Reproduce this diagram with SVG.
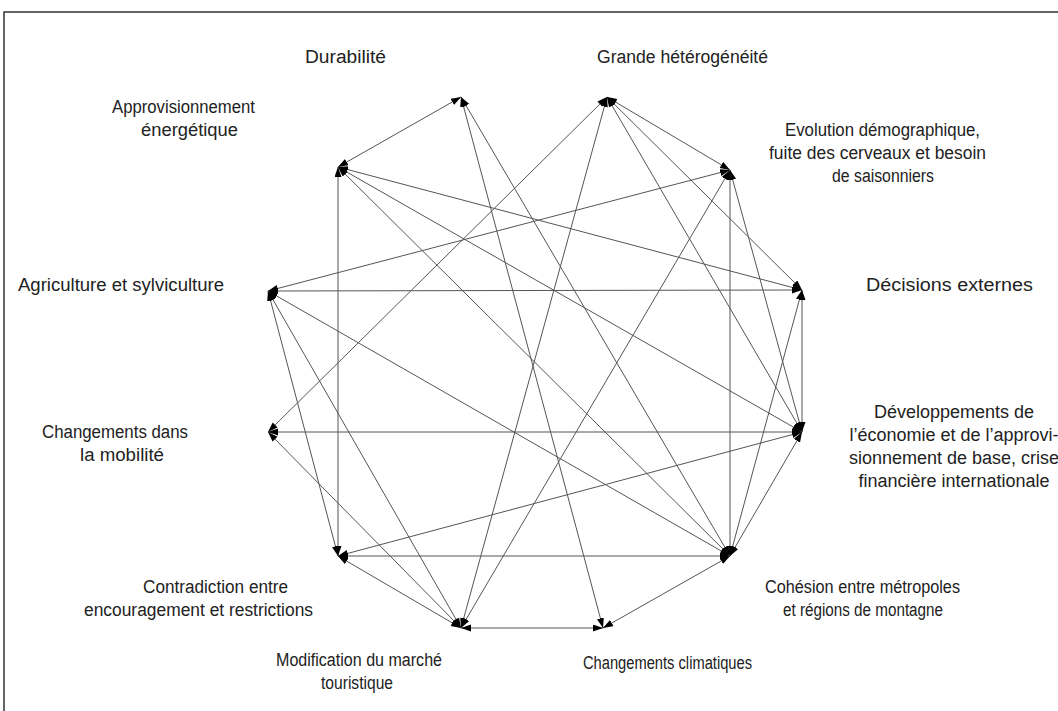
<svg xmlns="http://www.w3.org/2000/svg" width="1058" height="711" viewBox="0 0 1058 711">
<style>
.lbl{font-family:"Liberation Sans",Arial,sans-serif;font-size:18px;fill:#222;text-anchor:middle}
.c line{stroke:#555;stroke-width:1;fill:none;marker-start:url(#ah);marker-end:url(#ah)}
.frame{fill:none;stroke:#333;stroke-width:1.5}
</style>
<defs>
<marker id="ah" markerUnits="userSpaceOnUse" markerWidth="11" markerHeight="8" refX="10" refY="3.5" orient="auto-start-reverse">
<path d="M0,0 L10,3.5 L0,7 z" fill="#000"/>
</marker>
</defs>
<rect width="1058" height="711" fill="#fff"/>
<rect class="frame" x="4" y="12" width="1070" height="720"/>
<g id="connectors" class="c">
<line x1="338" y1="167" x2="461" y2="97"/>
<line x1="338" y1="167" x2="338" y2="556"/>
<line x1="338" y1="167" x2="802" y2="290"/>
<line x1="338" y1="167" x2="802" y2="432"/>
<line x1="338" y1="167" x2="730" y2="556"/>
<line x1="461" y1="97" x2="603" y2="628"/>
<line x1="461" y1="97" x2="730" y2="556"/>
<line x1="607" y1="97" x2="268" y2="432"/>
<line x1="607" y1="97" x2="461" y2="628"/>
<line x1="607" y1="97" x2="802" y2="432"/>
<line x1="607" y1="97" x2="802" y2="290"/>
<line x1="607" y1="97" x2="730" y2="170"/>
<line x1="268" y1="291" x2="730" y2="170"/>
<line x1="268" y1="291" x2="802" y2="290"/>
<line x1="268" y1="291" x2="730" y2="556"/>
<line x1="268" y1="291" x2="338" y2="556"/>
<line x1="268" y1="291" x2="461" y2="628"/>
<line x1="268" y1="432" x2="802" y2="432"/>
<line x1="268" y1="432" x2="461" y2="628"/>
<line x1="338" y1="556" x2="802" y2="432"/>
<line x1="338" y1="556" x2="730" y2="556"/>
<line x1="338" y1="556" x2="461" y2="628"/>
<line x1="461" y1="628" x2="730" y2="170"/>
<line x1="461" y1="628" x2="603" y2="628"/>
<line x1="603" y1="628" x2="730" y2="556"/>
<line x1="730" y1="556" x2="730" y2="170"/>
<line x1="730" y1="556" x2="802" y2="432"/>
<line x1="730" y1="556" x2="802" y2="290"/>
<line x1="730" y1="170" x2="802" y2="432"/>
<line x1="802" y1="290" x2="802" y2="432"/>
</g>
<g id="n-durabilite"><text class="lbl" x="345.5" y="63" textLength="81" lengthAdjust="spacingAndGlyphs">Durabilité</text></g>
<g id="n-heterogeneite"><text class="lbl" x="682.5" y="63" textLength="171" lengthAdjust="spacingAndGlyphs">Grande hétérogénéité</text></g>
<g id="n-evolution"><text class="lbl" x="882.5" y="136" textLength="195" lengthAdjust="spacingAndGlyphs">Evolution démographique,</text><text class="lbl" x="877.5" y="159" textLength="217" lengthAdjust="spacingAndGlyphs">fuite des cerveaux et besoin</text><text class="lbl" x="883" y="182" textLength="102" lengthAdjust="spacingAndGlyphs">de saisonniers</text></g>
<g id="n-decisions"><text class="lbl" x="949.5" y="291" textLength="167" lengthAdjust="spacingAndGlyphs">Décisions externes</text></g>
<g id="n-developpements"><text class="lbl" x="954" y="418">Développements de</text><text class="lbl" x="954" y="441">l’économie et de l’approvi-</text><text class="lbl" x="954" y="464">sionnement de base, crise</text><text class="lbl" x="954" y="487">financière internationale</text></g>
<g id="n-cohesion"><text class="lbl" x="862.5" y="593" textLength="195" lengthAdjust="spacingAndGlyphs">Cohésion entre métropoles</text><text class="lbl" x="863" y="616" textLength="160" lengthAdjust="spacingAndGlyphs">et régions de montagne</text></g>
<g id="n-climatiques"><text class="lbl" x="667.5" y="669" textLength="169" lengthAdjust="spacingAndGlyphs">Changements climatiques</text></g>
<g id="n-tourisme"><text class="lbl" x="359" y="666" textLength="166" lengthAdjust="spacingAndGlyphs">Modification du marché</text><text class="lbl" x="357" y="689" textLength="72" lengthAdjust="spacingAndGlyphs">touristique</text></g>
<g id="n-contradiction"><text class="lbl" x="215.5" y="593" textLength="145" lengthAdjust="spacingAndGlyphs">Contradiction entre</text><text class="lbl" x="198.5" y="616" textLength="229" lengthAdjust="spacingAndGlyphs">encouragement et restrictions</text></g>
<g id="n-mobilite"><text class="lbl" x="115" y="438" textLength="146" lengthAdjust="spacingAndGlyphs">Changements dans</text><text class="lbl" x="122" y="461" textLength="84" lengthAdjust="spacingAndGlyphs">la mobilité</text></g>
<g id="n-agriculture"><text class="lbl" x="121" y="291" textLength="206" lengthAdjust="spacingAndGlyphs">Agriculture et sylviculture</text></g>
<g id="n-approvisionnement"><text class="lbl" x="183.5" y="113" textLength="143" lengthAdjust="spacingAndGlyphs">Approvisionnement</text><text class="lbl" x="189.5" y="136" textLength="97" lengthAdjust="spacingAndGlyphs">énergétique</text></g>
</svg>
